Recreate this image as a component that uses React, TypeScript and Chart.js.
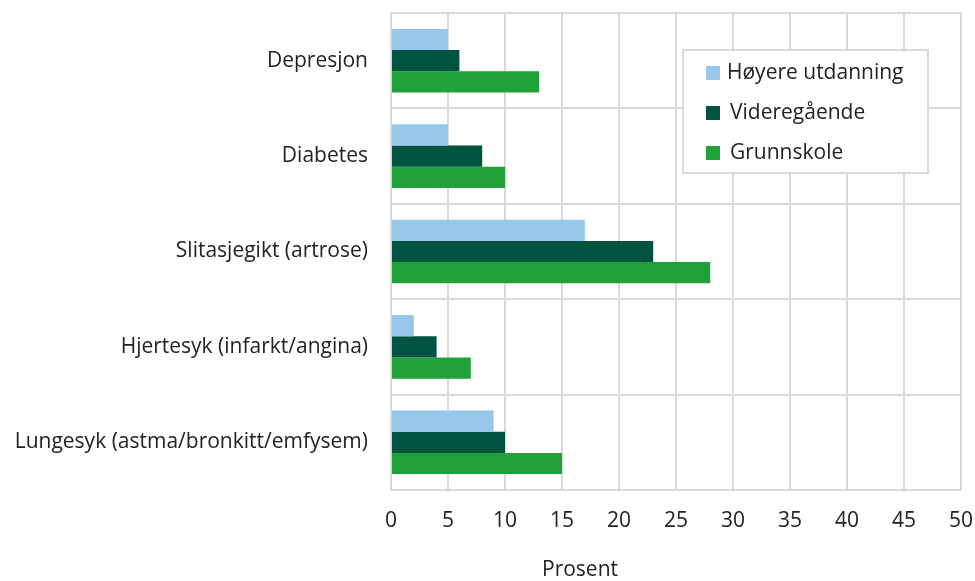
import React, { useEffect, useRef } from "react";
import { Chart, registerables } from "chart.js";

Chart.register(...registerables);

const categories = [
  "Depresjon",
  "Diabetes",
  "Slitasjegikt (artrose)",
  "Hjertesyk (infarkt/angina)",
  "Lungesyk (astma/bronkitt/emfysem)",
];
const seriesNames = ["Høyere utdanning", "Videregående", "Grunnskole"];
const hoyere = [5, 5, 17, 2, 9];
const videregaende = [6, 8, 23, 4, 10];
const grunnskole = [13, 10, 28, 7, 15];
const colors = ["#97c8ec", "#00543f", "#21a139"];
const xTitle = "Prosent";

const FONT = "'Open Sans', sans-serif";
const FS = 21;
const TEXT = "#222222";
const GRID = "#d9d9d9";

const legendPlugin = {
  id: "boxLegend",
  afterDatasetsDraw(chart: any) {
    const { ctx, chartArea } = chart;
    const x0 = chartArea.left + 292;
    const y0 = chartArea.top + 37;
    const w = 245;
    const h = 123;
    ctx.save();
    ctx.fillStyle = "#ffffff";
    ctx.fillRect(x0, y0, w, h);
    ctx.strokeStyle = GRID;
    ctx.lineWidth = 2;
    ctx.strokeRect(x0, y0, w, h);
    ctx.font = `${FS}px ${FONT}`;
    ctx.textBaseline = "middle";
    ctx.textAlign = "left";
    chart.data.datasets.forEach((ds: any, i: number) => {
      const cy = y0 + 23 + i * 40;
      ctx.fillStyle = ds.backgroundColor;
      ctx.fillRect(x0 + 23, cy - 7, 14, 14);
      ctx.fillStyle = TEXT;
      ctx.fillText(ds.label, x0 + 44 + (i > 0 ? 3 : 0), cy);
    });
    ctx.restore();
  },
  afterDraw(chart: any) {
    const { ctx, chartArea } = chart;
    ctx.save();
    ctx.font = `${FS}px ${FONT}`;
    ctx.fillStyle = TEXT;
    ctx.textAlign = "center";
    ctx.textBaseline = "middle";
    ctx.fillText(xTitle, chartArea.left + 189, chartArea.bottom + 80);
    ctx.restore();
  },
};

export default function App() {
  const ref = useRef<HTMLCanvasElement>(null);
  useEffect(() => {
    let chart: any = null;
    let cancelled = false;
    const make = () => {
      if (cancelled || !ref.current) return;
      const data = [hoyere, videregaende, grunnskole];
      chart = new Chart(ref.current, {
        type: "bar",
        data: {
          labels: categories,
          datasets: seriesNames.map((name, i) => ({
            label: name,
            data: data[i],
            backgroundColor: colors[i],
            borderWidth: 0,
            barPercentage: 1,
            categoryPercentage: 0.667,
          })),
        },
        options: {
          indexAxis: "y",
          animation: false,
          responsive: false,
          maintainAspectRatio: false,
          layout: { padding: { top: 13, right: 14, bottom: 0, left: 0 } },
          plugins: {
            legend: { display: false },
            tooltip: { enabled: false },
          },
          scales: {
            x: {
              min: 0,
              max: 50,
              ticks: {
                stepSize: 5,
                color: TEXT,
                font: { family: FONT, size: FS },
                padding: 18,
              },
              grid: { color: GRID, lineWidth: 2, drawTicks: false },
              border: { display: false },
              afterFit: (s: any) => {
                s.height = 91;
                s.paddingLeft = 0;
                s.paddingRight = 0;
              },
            },
            y: {
              offset: true,
              ticks: {
                color: TEXT,
                font: { family: FONT, size: FS },
                padding: 23,
              },
              grid: { color: GRID, lineWidth: 2, drawTicks: false, offset: true },
              border: { color: GRID, width: 2 },
              afterFit: (s: any) => {
                s.width = 391;
                s.paddingTop = 0;
                s.paddingBottom = 0;
              },
            },
          },
        },
        plugins: [legendPlugin],
      });
    };
    const fonts: any = (document as any).fonts;
    if (fonts && fonts.load) {
      Promise.all([fonts.load(`${FS}px "Open Sans"`)]).then(make, make);
    } else {
      make();
    }
    return () => {
      cancelled = true;
      if (chart) chart.destroy();
    };
  }, []);
  return (
    <div style={{ position: "absolute", left: 0, top: 0, width: 975, height: 581, background: "#fff" }}>
      <canvas ref={ref} width={975} height={581} style={{ width: 975, height: 581 }} />
    </div>
  );
}
